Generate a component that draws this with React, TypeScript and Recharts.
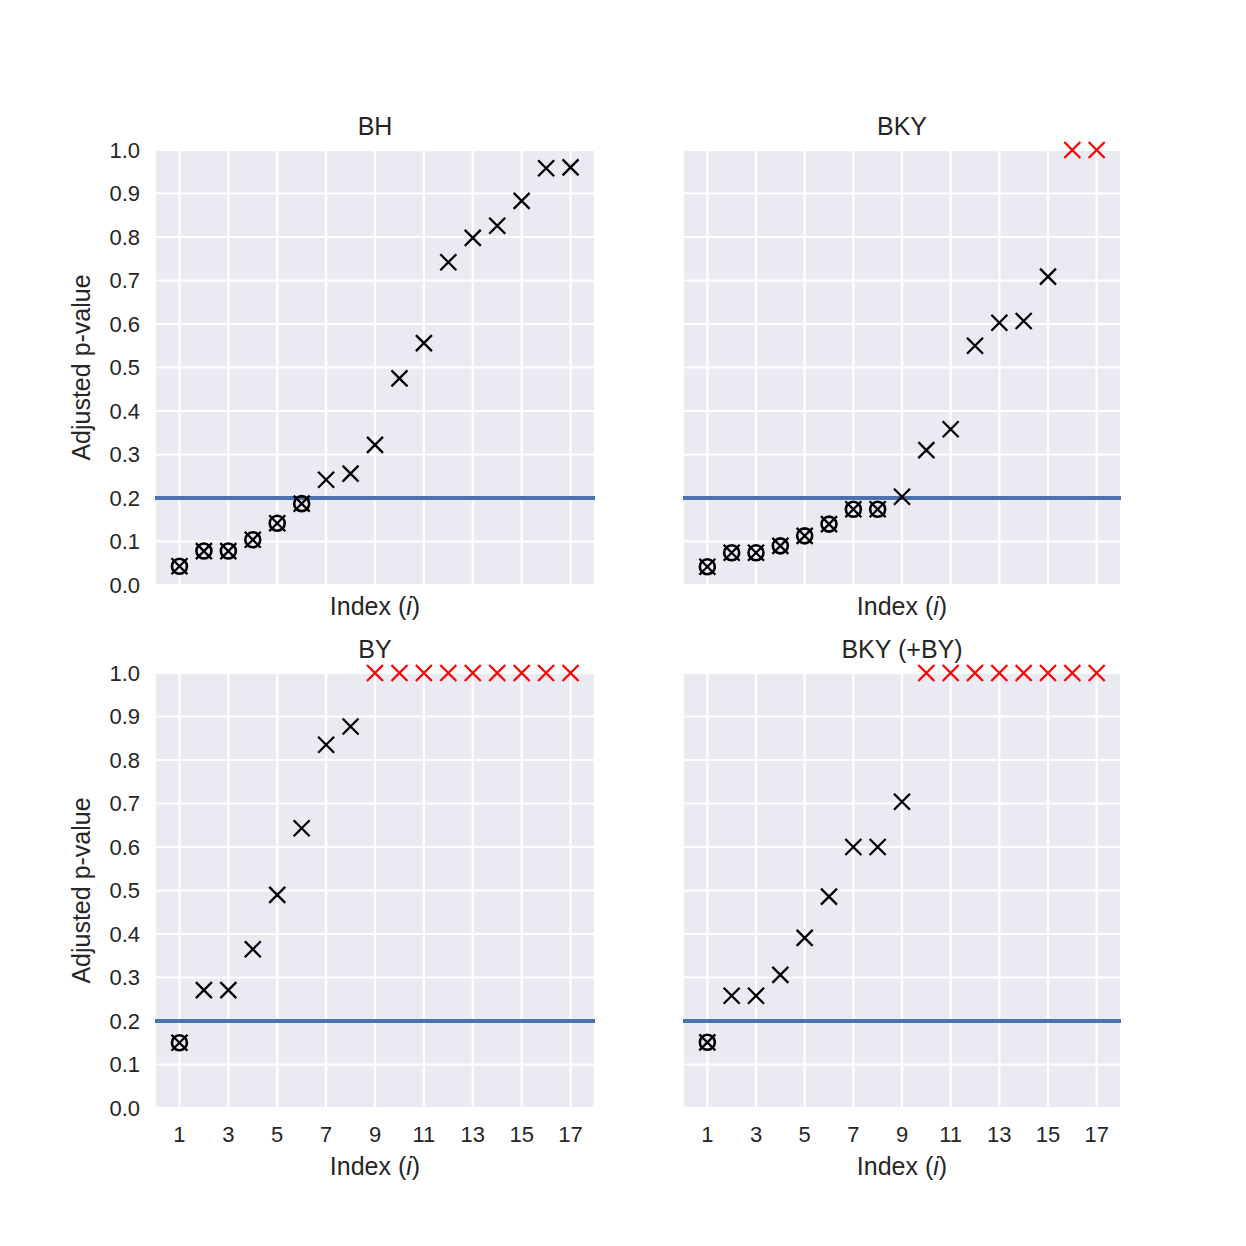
import { ScatterChart, Scatter, XAxis, YAxis, CartesianGrid, ReferenceLine } from 'recharts';

// sorted index i = 1..17
const indexValues = [1, 2, 3, 4, 5, 6, 7, 8, 9, 10, 11, 12, 13, 14, 15, 16, 17];

// adjusted p-values (1.0 = capped, drawn red)
const bhValues = [0.043, 0.078, 0.078, 0.104, 0.142, 0.187, 0.242, 0.256, 0.322, 0.475, 0.556, 0.742, 0.798, 0.826, 0.883, 0.958, 0.96];
const bkyValues = [0.042, 0.074, 0.074, 0.09, 0.113, 0.14, 0.174, 0.174, 0.203, 0.31, 0.358, 0.55, 0.603, 0.607, 0.709, 1.0, 1.0];
const byValues = [0.15, 0.271, 0.271, 0.365, 0.49, 0.643, 0.835, 0.877, 1.0, 1.0, 1.0, 1.0, 1.0, 1.0, 1.0, 1.0, 1.0];
const bkyByValues = [0.151, 0.258, 0.258, 0.306, 0.391, 0.486, 0.6, 0.6, 0.704, 1.0, 1.0, 1.0, 1.0, 1.0, 1.0, 1.0, 1.0];

const alpha = 0.2;
const xTicks = [1, 3, 5, 7, 9, 11, 13, 15, 17];
const yTicks = [0, 0.1, 0.2, 0.3, 0.4, 0.5, 0.6, 0.7, 0.8, 0.9, 1.0];

const FONT = '"Liberation Sans", Arial, sans-serif';
const TEXT = '#262626';
const TICK_SIZE = 22;
const LABEL_SIZE = 25;

const panels = [
	{ title: 'BH', values: bhValues, left: 155, top: 150, width: 440, showX: false, showY: true },
	{ title: 'BKY', values: bkyValues, left: 683, top: 150, width: 438, showX: false, showY: false },
	{ title: 'BY', values: byValues, left: 155, top: 673, width: 440, showX: true, showY: true },
	{ title: 'BKY (+BY)', values: bkyByValues, left: 683, top: 673, width: 438, showX: true, showY: false },
];
const PLOT_H = 435;
const Y_AXIS_W = 90;
const M_LEFT = 5;
const M_TOP = 50;
const X_AXIS_H = 50;

const tickStyle = { fill: TEXT, fontSize: TICK_SIZE, fontFamily: FONT };
// shared axes: keep the ticks (for the grid) but draw no label
const NoTick = () => <g />;

const XMark = (props: any) => {
	const { cx, cy, color } = props;
	const s = 8;
	return (
		<path
			d={`M${cx - s},${cy - s}L${cx + s},${cy + s}M${cx - s},${cy + s}L${cx + s},${cy - s}`}
			stroke={color}
			strokeWidth={2.3}
			fill='none'
		/>
	);
};

const Ring = (props: any) => {
	const { cx, cy } = props;
	return <circle cx={cx} cy={cy} r={7.5} stroke='#000' strokeWidth={2.6} fill='none' />;
};

function Panel({ p }: { p: (typeof panels)[number] }) {
	const pts = indexValues.map((i, k) => ({ i, p: p.values[k] }));
	const normal = pts.filter(d => d.p < 1);
	const capped = pts.filter(d => d.p >= 1);
	const rejected = pts.filter(d => d.p < alpha);
	const chartW = M_LEFT + Y_AXIS_W + p.width + 20;
	const chartH = M_TOP + PLOT_H + X_AXIS_H + 5;
	return (
		<div style={{ position: 'absolute', left: p.left - Y_AXIS_W - M_LEFT, top: p.top - M_TOP }}>
			<ScatterChart
				width={chartW}
				height={chartH}
				margin={{ top: M_TOP, right: 20, bottom: 5, left: M_LEFT }}>
				<CartesianGrid fill='#EAEAF2' fillOpacity={1} stroke='#ffffff' strokeWidth={2.2} />
				<XAxis
					type='number'
					dataKey='i'
					domain={[0, 18]}
					ticks={xTicks}
					interval={0}
					height={X_AXIS_H}
					axisLine={false}
					tickLine={false}
					tickSize={0}
					tickMargin={18}
					tick={p.showX ? tickStyle : NoTick}
				/>
				<YAxis
					type='number'
					dataKey='p'
					domain={[0, 1]}
					ticks={yTicks}
					interval={0}
					width={Y_AXIS_W}
					axisLine={false}
					tickLine={false}
					tickSize={0}
					tickMargin={15}
					tickFormatter={(v: number) => v.toFixed(1)}
					tick={p.showY ? tickStyle : NoTick}
				/>
				<ReferenceLine y={alpha} stroke='#4C72B0' strokeWidth={4} />
				<Scatter data={normal} isAnimationActive={false} shape={(s: any) => <XMark {...s} color='#000000' />} />
				<Scatter data={rejected} isAnimationActive={false} shape={(s: any) => <Ring {...s} />} />
				<Scatter data={capped} isAnimationActive={false} shape={(s: any) => <XMark {...s} color='#FF0000' />} />
			</ScatterChart>
		</div>
	);
}

export default function App() {
	return (
		<div style={{ position: 'absolute', left: 0, top: 0, width: 1246, height: 1246, background: '#fff' }}>
			{panels.map(p => (
				<Panel key={p.title} p={p} />
			))}
			<svg
				width={1246}
				height={1246}
				style={{ position: 'absolute', left: 0, top: 0, pointerEvents: 'none' }}
				fontFamily={FONT}
				fill={TEXT}>
				{panels.map(p => {
					const cx = p.left + p.width / 2;
					const bottom = p.top + PLOT_H;
					return (
						<g key={p.title}>
							<text x={cx} y={p.top - 15} textAnchor='middle' fontSize={LABEL_SIZE}>
								{p.title}
							</text>
							<text x={cx} y={bottom + (p.showX ? 67 : 30)} textAnchor='middle' fontSize={LABEL_SIZE}>
								Index (<tspan fontStyle='italic'>i</tspan>)
							</text>
						</g>
					);
				})}
				{panels
					.filter(p => p.showY)
					.map(p => (
						<text
							key={'y' + p.title}
							x={0}
							y={0}
							transform={`translate(90, ${p.top + PLOT_H / 2}) rotate(-90)`}
							textAnchor='middle'
							fontSize={LABEL_SIZE}>
							Adjusted p-value
						</text>
					))}
			</svg>
		</div>
	);
}
